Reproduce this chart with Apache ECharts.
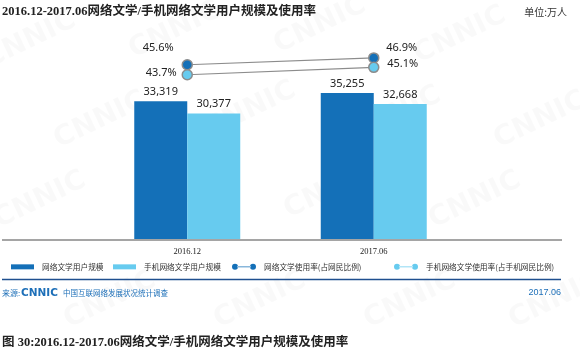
<!DOCTYPE html>
<html>
<head>
<meta charset="utf-8">
<script src="https://cdn.jsdelivr.net/npm/echarts@6/dist/echarts.min.js"></script>
<style>html,body{margin:0;padding:0;background:#fff}#c{width:580px;height:352px}</style>
</head>
<body>
<div id="c"></div>
<script>
const categories = ['2016.12', '2017.06'];
const webLitUsers = [33319, 35255];
const mobileLitUsers = [30377, 32668];
const webLitRate = [45.6, 46.9];
const mobileLitRate = [43.7, 45.1];
const seriesNames = ['网络文学用户规模', '手机网络文学用户规模', '网络文学使用率(占网民比例)', '手机网络文学使用率(占手机网民比例)'];

const DARK = '#1470b8', LIGHT = '#67cbef', GREY = '#8c8c8c', FOOT = '#1d6fb8';
const CJK = '"Noto Sans CJK SC", sans-serif';
const SERIF = '"Liberation Serif", "Noto Sans CJK SC", serif';

const chart = echarts.init(document.getElementById('c'), null, {renderer: 'canvas'});

const wm = [];
const wmPos = [[30,40],[175,30],[320,25],[460,35],[100,120],[250,110],[395,115],[540,120],[40,200],[185,195],[330,190],[475,200],[110,300],[260,300],[410,300],[555,300]];
wmPos.forEach(p => wm.push({type:'text', x:p[0], y:p[1], rotation: 0.45, silent:true, z:-10,
  style:{text:'CNNIC', fill:'rgba(0,0,0,0.022)', font:'bold 28px "DejaVu Sans", sans-serif', align:'center', verticalAlign:'middle'}}));

const lineLegendIcon = 'path://M0,3a3,3 0 1,0 6,0a3,3 0 1,0 -6,0M18,3a3,3 0 1,0 6,0a3,3 0 1,0 -6,0M5,2.6h14v0.8h-14z';
function mkLegend(name, left, isLine) {
  return {
    data: [{name: name, icon: isLine ? lineLegendIcon : 'rect', itemStyle: {borderWidth: 0}}],
    left: left, top: 263, padding: 0,
    itemWidth: isLine ? 24 : 23, itemHeight: isLine ? 6 : 5,
    textStyle: {fontSize: 7.7, color: '#333', fontFamily: CJK, padding: [0, 0, 0, 3]},
    selectedMode: false
  };
}

const rateLabel = {show: true, position: 'inside', color: '#222', fontSize: 11, fontFamily: '"Noto Sans", sans-serif',
  formatter: p => p.value.toFixed(1) + '%'};

chart.setOption({
  animation: false,
  backgroundColor: '#fff',
  grid: {left: 94, width: 373, top: 40, height: 200},
  legend: [
    mkLegend(seriesNames[0], 11, false),
    mkLegend(seriesNames[1], 113, false),
    mkLegend(seriesNames[2], 232, true),
    mkLegend(seriesNames[3], 394, true)
  ],
  xAxis: {
    type: 'category', data: categories,
    axisLine: {show: false}, axisTick: {show: false},
    axisLabel: {margin: 8, fontSize: 8.5, color: '#222', fontFamily: SERIF}
  },
  yAxis: [
    {type: 'value', min: 0, max: 48000, show: false, splitLine: {show: false}},
    {type: 'value', min: 12.3, max: 50.3, show: false, splitLine: {show: false}}
  ],
  series: [
    {name: seriesNames[0], type: 'bar', data: webLitUsers, barWidth: 53, barGap: '0%',
      itemStyle: {color: DARK},
      label: {show: true, position: 'top', distance: 4, color: '#222', fontSize: 11, fontFamily: '"Noto Sans", sans-serif',
        formatter: p => p.value.toLocaleString('en-US')}},
    {name: seriesNames[1], type: 'bar', data: mobileLitUsers, barWidth: 53, barGap: '0%',
      itemStyle: {color: LIGHT},
      label: {show: true, position: 'top', distance: 4, color: '#222', fontSize: 11, fontFamily: '"Noto Sans", sans-serif',
        formatter: p => p.value.toLocaleString('en-US')}},
    {name: seriesNames[2], type: 'line', yAxisIndex: 1, symbol: 'circle', symbolSize: 10,
      lineStyle: {color: GREY, width: 1.2},
      itemStyle: {color: DARK, borderColor: GREY, borderWidth: 1.5},
      data: [
        {value: webLitRate[0], label: Object.assign({}, rateLabel, {offset: [-29, -17]})},
        {value: webLitRate[1], label: Object.assign({}, rateLabel, {offset: [28, -10]})}
      ], z: 5},
    {name: seriesNames[3], type: 'line', yAxisIndex: 1, symbol: 'circle', symbolSize: 10,
      lineStyle: {color: GREY, width: 1.2},
      itemStyle: {color: LIGHT, borderColor: GREY, borderWidth: 1.5},
      data: [
        {value: mobileLitRate[0], label: Object.assign({}, rateLabel, {offset: [-26, -2]})},
        {value: mobileLitRate[1], label: Object.assign({}, rateLabel, {offset: [29, -4]})}
      ], z: 5}
  ],
  graphic: wm.concat([
    {type: 'text', x: 2, y: 12, style: {text: '2016.12-2017.06网络文学/手机网络文学用户规模及使用率', font: 'bold 12.5px ' + SERIF, fill: '#222', verticalAlign: 'middle'}},
    {type: 'text', x: 567, y: 12, style: {text: '单位:万人', font: '10px ' + CJK, fill: '#333', align: 'right', verticalAlign: 'middle'}},
    {type: 'line', shape: {x1: 2, y1: 240, x2: 562, y2: 240}, style: {stroke: '#a5a5a5', lineWidth: 2}, z: 10},
    {type: 'line', shape: {x1: 2, y1: 279.5, x2: 561, y2: 279.5}, style: {stroke: '#1f4f8f', lineWidth: 1.5}},
    {type: 'text', x: 2, y: 293, style: {text: '来源:', font: '8px ' + CJK, fill: FOOT, verticalAlign: 'middle'}},
    {type: 'text', x: 21, y: 293, style: {text: 'CNNIC', font: 'bold 10.5px "DejaVu Sans", sans-serif', fill: FOOT, verticalAlign: 'middle'}},
    {type: 'text', x: 63, y: 293, style: {text: '中国互联网络发展状况统计调查', font: '7.5px ' + CJK, fill: FOOT, verticalAlign: 'middle'}},
    {type: 'text', x: 561, y: 293, style: {text: '2017.06', font: '9px "Liberation Sans", sans-serif', fill: FOOT, align: 'right', verticalAlign: 'middle'}},
    {type: 'text', x: 2, y: 343, style: {text: '图 30:2016.12-2017.06网络文学/手机网络文学用户规模及使用率', font: 'bold 12.5px ' + SERIF, fill: '#222', verticalAlign: 'middle'}}
  ])
});
</script>
</body>
</html>
